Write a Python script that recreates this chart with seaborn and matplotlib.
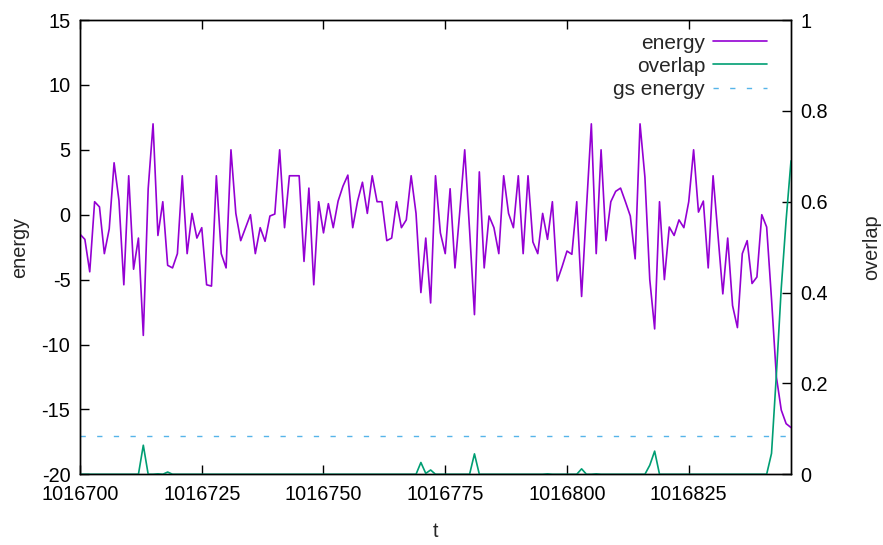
import numpy as np
import pandas as pd
import matplotlib
matplotlib.use("Agg")
import matplotlib.pyplot as plt
import seaborn as sns
from matplotlib.lines import Line2D

t_start = 1016700
t_end = 1016846
t = list(range(t_start, t_end + 1))

energy = [
    -1.5, -1.9, -4.4, 1.0, 0.6, -3.0, -1.1, 4.0, 1.1, -5.4,
    3.0, -4.2, -1.8, -9.3, 2.0, 7.0, -1.6, 1.0, -3.9, -4.1,
    -3.0, 3.0, -3.0, 0.1, -1.8, -1.0, -5.4, -5.5, 3.0, -3.0,
    -4.1, 5.0, 0.1, -2.0, -1.0, 0.0, -3.0, -1.0, -2.05, -0.1,
    0.05, 5.0, -1.0, 3.0, 3.0, 3.0, -3.6, 2.05, -5.4, 1.0,
    -1.4, 0.85, -1.0, 1.05, 2.2, 3.05, -1.0, 1.05, 2.5, 0.1,
    3.0, 1.0, 1.0, -2.0, -1.8, 1.0, -1.0, -0.4, 3.0, 0.1,
    -6.0, -1.8, -6.8, 3.0, -1.4, -3.0, 2.0, -4.1, 0.3, 5.0,
    -1.2, -7.7, 3.3, -4.1, -0.1, -1.0, -3.0, 3.0, 0.1, -1.0,
    3.0, -3.0, 3.0, -2.1, -3.0, 0.1, -1.9, 1.0, -5.1, -4.0,
    -2.8, -3.05, 1.0, -6.3, 0.5, 7.0, -3.0, 5.0, -2.0, 1.0,
    1.8, 2.05, 1.0, -0.1, -3.4, 7.0, 2.9, -5.0, -8.8, 1.0,
    -5.0, -0.95, -1.6, -0.4, -1.0, 1.0, 5.0, 0.2, 1.05, -4.1,
    3.0, -1.5, -6.1, -1.8, -7.0, -8.7, -3.0, -2.0, -5.3, -4.8,
    0.0, -0.95, -6.5, -12.5, -15.05, -16.1, -16.4,
]

overlap = [
    0, 0, 0, 0, 0, 0, 0, 0, 0, 0,
    0, 0, 0, 0.064, 0, 0, 0.001, 0, 0.005, 0,
    0, 0, 0, 0, 0, 0, 0, 0, 0, 0,
    0, 0, 0, 0, 0, 0, 0, 0, 0, 0,
    0, 0, 0, 0, 0, 0, 0, 0, 0, 0,
    0, 0, 0, 0, 0, 0, 0, 0, 0, 0,
    0, 0, 0, 0, 0, 0, 0, 0, 0, 0,
    0.026, 0.002, 0.0095, 0, 0, 0, 0, 0, 0, 0,
    0, 0.045, 0, 0, 0, 0, 0, 0, 0, 0,
    0, 0, 0, 0, 0, 0, 0.001, 0, 0, 0,
    0, 0, 0, 0.012, 0, 0, 0.001, 0, 0, 0,
    0, 0, 0, 0, 0, 0, 0, 0.02, 0.051, 0,
    0, 0, 0, 0, 0, 0, 0, 0, 0, 0,
    0, 0, 0, 0, 0, 0, 0, 0, 0, 0,
    0, 0, 0.046, 0.22, 0.41, 0.56, 0.69,
]

gs_energy = -17.05

x_ticks = [1016700, 1016725, 1016750, 1016775, 1016800, 1016825]
y_ticks = [-20, -15, -10, -5, 0, 5, 10, 15]
y2_ticks = [0, 0.2, 0.4, 0.6, 0.8, 1.0]
y2_labels = ["0", "0.2", "0.4", "0.6", "0.8", "1"]

series_names = ["energy", "overlap", "gs energy"]
colors = ["#9400D3", "#009E73", "#56B4E9"]

sns.set_theme(style="white")
plt.rcParams['font.family'] = ['Liberation Sans', 'DejaVu Sans']
FS = 14.3
LFS = 15

df = pd.DataFrame({"t": t, "energy": energy, "overlap": overlap})

W, H = 883, 545
fig = plt.figure(figsize=(W / 100, H / 100), dpi=100)
L, R, T, B = 80, 791, 20, 474.3
ax = fig.add_axes([L / W, 1 - B / H, (R - L) / W, (B - T) / H])

sns.lineplot(data=df, x="t", y="energy", ax=ax, color=colors[0], lw=1.2,
             legend=False, zorder=3)
gs_line = ax.axhline(gs_energy, color=colors[2], lw=1.0, ls=(0, (3.8, 8.2)))

ax2 = ax.twinx()
sns.lineplot(data=df, x="t", y="overlap", ax=ax2, color=colors[1], lw=1.2,
             legend=False)

ax.set_xlim(t_start, t_end)
ax.set_ylim(-20, 15)
ax2.set_ylim(0, 1)

ax.set_xticks(x_ticks)
ax.set_xticklabels([str(v) for v in x_ticks])
ax.set_yticks(y_ticks)
ax.set_yticklabels([str(v) for v in y_ticks])
ax2.set_yticks(y2_ticks)
ax2.set_yticklabels(y2_labels)

ax.tick_params(axis='x', direction='in', top=True, bottom=True, length=6.5,
               width=1, colors='black', labelsize=FS, pad=8)
ax.tick_params(axis='y', direction='in', left=True, right=False, length=6.5,
               width=1, colors='black', labelsize=FS, pad=7)
ax2.tick_params(axis='y', direction='in', right=True, left=False, length=6.5,
                width=1, colors='black', labelsize=FS, pad=7)

for a in (ax, ax2):
    for s in a.spines.values():
        s.set_color('black')
        s.set_linewidth(1.0)
    a.grid(False)

ax.set_xlabel("t", fontsize=FS, labelpad=13)
ax.set_ylabel("energy", fontsize=FS, labelpad=9)
ax2.set_ylabel("overlap", fontsize=FS, labelpad=24)

handles = [Line2D([], [], color=colors[0], lw=1.2),
           Line2D([], [], color=colors[1], lw=1.2),
           Line2D([], [], color=colors[2], lw=1.0, ls=(0, (3.8, 8.2)))]
leg = ax2.legend(handles, series_names, loc='upper right', markerfirst=False,
                 frameon=False, fontsize=LFS, handlelength=2.6,
                 handletextpad=0.36, labelspacing=0.2,
                 bbox_to_anchor=(0.985, 1.0), borderaxespad=0.25)
for txt in leg.get_texts():
    txt.set_ha('right')

fig.savefig("out.png", dpi=100)
